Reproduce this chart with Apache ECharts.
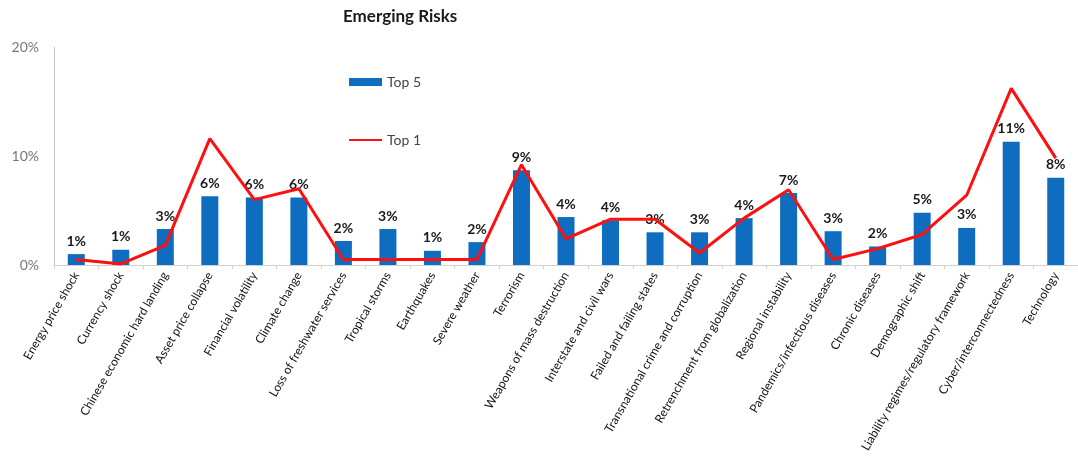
<!DOCTYPE html>
<html>
<head>
<meta charset="utf-8">
<script src="https://cdn.jsdelivr.net/npm/echarts@6/dist/echarts.min.js"></script>
<style>
html,body{margin:0;padding:0;background:#fff;}
#chart{width:1078px;height:475px;}
</style>
</head>
<body>
<div id="chart"></div>
<script>
const categories = [
  'Energy price shock','Currency shock','Chinese economic hard landing','Asset price collapse',
  'Financial volatility','Climate change','Loss of freshwater services','Tropical storms',
  'Earthquakes','Severe weather','Terrorism','Weapons of mass destruction',
  'Interstate and civil wars','Failed and failing states','Transnational crime and corruption',
  'Retrenchment from globalization','Regional instability','Pandemics/infectious diseases',
  'Chronic diseases','Demographic shift','Liability regimes/regulatory framework',
  'Cyber/interconnectedness','Technology'
];
const top5 = [1.0, 1.4, 3.3, 6.3, 6.2, 6.2, 2.2, 3.3, 1.3, 2.1, 8.7, 4.4, 4.1, 3.0, 3.0, 4.3, 6.6, 3.1, 1.7, 4.8, 3.4, 11.3, 8.0];
const top1 = [0.5, 0.1, 1.8, 11.6, 6.0, 7.0, 0.5, 0.5, 0.5, 0.5, 9.2, 2.4, 4.2, 4.2, 1.1, 4.3, 6.9, 0.5, 1.5, 2.8, 6.4, 16.2, 9.8];
const yTicks = [0, 10, 20];

const chart = echarts.init(document.getElementById('chart'));
chart.setOption({
  animation: false,
  backgroundColor: '#ffffff',
  textStyle: { fontFamily: 'Lato' },
  title: {
    text: 'Emerging Risks',
    left: 343, top: 8, padding: 0,
    textStyle: { fontFamily: 'Lato', fontSize: 17, fontWeight: 'bold', color: '#1a1a1a' }
  },
  legend: {
    orient: 'vertical',
    left: 348, top: 75, padding: 0,
    itemWidth: 33, itemHeight: 8,
    itemGap: 44,
    textStyle: { fontFamily: 'Lato', fontSize: 14, color: '#444' },
    data: [
      { name: 'Top 5', icon: 'rect' },
      { name: 'Top 1', itemStyle: { opacity: 0 } }
    ]
  },
  grid: { left: 54, top: 47, width: 1035, height: 218, containLabel: false },
  xAxis: {
    type: 'category',
    data: categories,
    axisLine: { lineStyle: { color: '#d0d0d0', width: 1 } },
    axisTick: { show: true, length: 4, lineStyle: { color: '#d0d0d0' } },
    axisLabel: {
      interval: 0, rotate: 60, fontSize: 12, color: '#111', margin: 8,
      fontFamily: 'Lato'
    }
  },
  yAxis: {
    type: 'value',
    min: yTicks[0], max: yTicks[yTicks.length - 1], interval: 10,
    axisLine: { show: true, lineStyle: { color: '#c8c8c8' } },
    axisTick: { show: false },
    splitLine: { show: false },
    axisLabel: { formatter: '{value}%', fontSize: 14, color: '#777', margin: 15, fontFamily: 'Lato' }
  },
  series: [
    {
      name: 'Top 5',
      type: 'bar',
      data: top5,
      barWidth: 17,
      itemStyle: { color: '#0F6DC0' },
      label: {
        show: true, position: 'top', distance: 6,
        formatter: p => Math.round(p.value) + '%',
        fontSize: 14, fontWeight: 'bold', color: '#1a1a1a', fontFamily: 'Lato'
      }
    },
    {
      name: 'Top 1',
      type: 'line',
      data: top1,
      symbol: 'none',
      lineStyle: { color: '#FF1010', width: 3 },
      itemStyle: { color: '#FF1010' }
    }
  ]
});
</script>
</body>
</html>
